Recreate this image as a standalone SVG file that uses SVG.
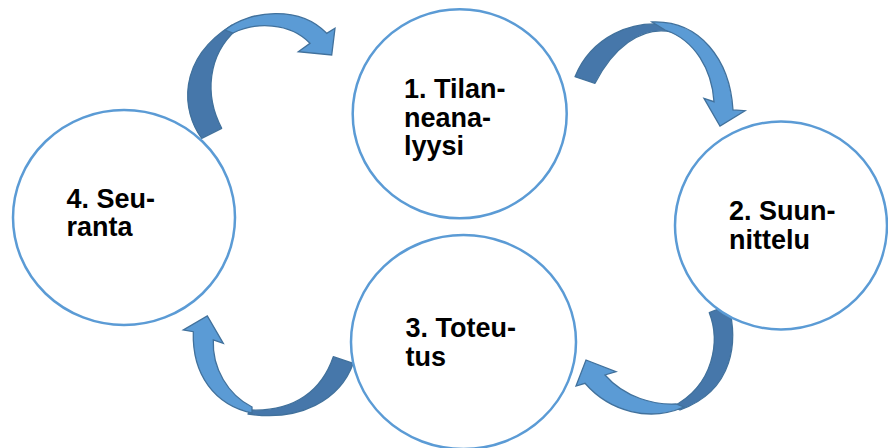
<svg xmlns="http://www.w3.org/2000/svg" width="888" height="448" viewBox="0 0 888 448">
<style>
.node{fill:#fff;stroke:#5B9BD5;stroke-width:2.5}
.lbl{font-family:"Liberation Sans",Arial,sans-serif;font-weight:bold;font-size:27px;fill:#000}
.dark{fill:#4677AA;stroke:#41719C;stroke-width:1.3;stroke-linejoin:round}
.light{fill:#5B9BD5;stroke:#41719C;stroke-width:1.3;stroke-linejoin:miter}
</style>
<rect width="888" height="448" fill="#fff"/>
<g id="connectors">
  <g id="arrow-4-1">
    <path class="dark" d="M201.7,138.3 C182,112 176,60 232,25 L236,30 C208,55 204,95 221.7,128.3 Z"/>
    <path class="light" d="M225,30 C250,10 300,5 326.7,33.3 L335,28.3 L331.7,55 L298.3,51.7 L310,43.3 C290,22 255,22 233,33 Z"/>
  </g>
  <g id="arrow-1-2">
    <path class="dark" d="M575,76.7 C590,40 630,15 680,27 L672,32 C640,25 612,50 595,83.3 Z"/>
    <path class="light" d="M652,22 C700,20 730,60 733,110 L745,110.7 L720,126 L704,98.3 L714,101.7 C712,70 695,40 665,30 Z"/>
  </g>
  <g id="arrow-2-3">
    <path class="dark" d="M728.3,305 C738,340 735,390 680,410 L672,407 C715,385 720,340 709.3,312.7 Z"/>
    <path class="light" d="M684,407 C650,422 610,412 585,383.3 L576,386 L586,360 L616,371.7 L605,375 C625,398 655,405 676,404 Z"/>
  </g>
  <g id="arrow-3-4">
    <path class="dark" d="M353.3,363.3 C340,400 300,422 248,414 L250,410 C295,412 322,390 333.3,356.7 Z"/>
    <path class="light" d="M252,413 C215,405 192,375 193.3,331.7 L183.3,330 L207.3,316 L223.3,343.3 L213.3,340 C212,368 228,395 252,407 Z"/>
  </g>
</g>
<g id="node1">
  <ellipse class="node" cx="459.7" cy="113.8" rx="107" ry="104.5"/>
  <text class="lbl" x="404" y="98">1. Tilan-</text>
  <text class="lbl" x="404" y="126.5">neana-</text>
  <text class="lbl" x="404" y="155">lyysi</text>
</g>
<g id="node2">
  <ellipse class="node" cx="781" cy="225.5" rx="106" ry="104"/>
  <text class="lbl" x="729" y="220">2. Suun-</text>
  <text class="lbl" x="729" y="249">nittelu</text>
</g>
<g id="node3">
  <ellipse class="node" cx="463.5" cy="342" rx="112.5" ry="107"/>
  <text class="lbl" x="405.5" y="337">3. Toteu-</text>
  <text class="lbl" x="405.5" y="366">tus</text>
</g>
<g id="node4">
  <ellipse class="node" cx="124" cy="217.5" rx="111" ry="107.5"/>
  <text class="lbl" x="66.5" y="208">4. Seu-</text>
  <text class="lbl" x="66.5" y="236">ranta</text>
</g>
</svg>
